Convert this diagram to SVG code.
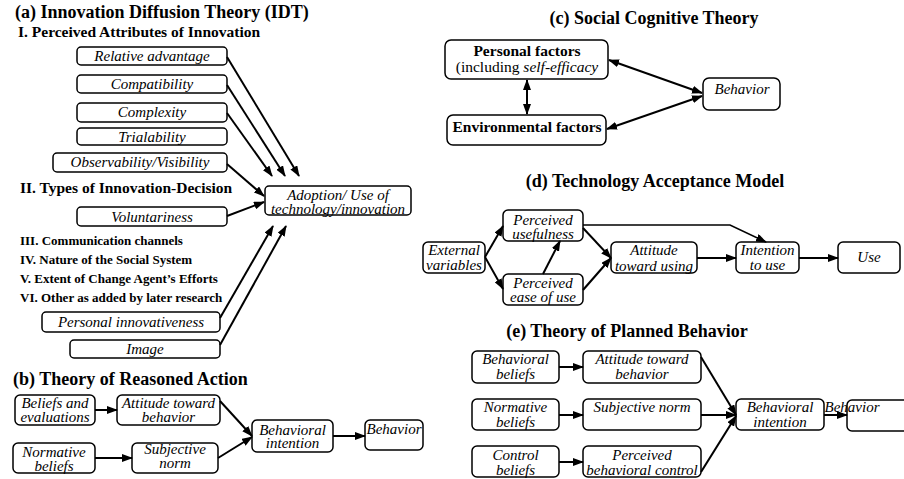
<svg xmlns="http://www.w3.org/2000/svg" width="904" height="479" viewBox="0 0 904 479">
<style>
.t{font-style:italic;font-size:15px;text-anchor:middle}
.ti{font-weight:bold;font-size:18px}
.h{font-weight:bold;font-size:15.5px}
.s{font-weight:bold;font-size:13px}
.b{font-weight:bold;font-size:15.5px;text-anchor:middle}
.r{font-size:15.5px;text-anchor:middle}
rect{fill:#fff;stroke:#000;stroke-width:1.5}
#connectors path{stroke:#000;stroke-width:2;fill:none;marker-end:url(#ah)}
#connectors path.d{marker-start:url(#ah)}
#connectors path.thin{stroke-width:1.6}
</style>
<defs>
<marker id="ah" markerWidth="11" markerHeight="8" refX="10" refY="4" orient="auto-start-reverse" markerUnits="userSpaceOnUse"><path d="M0,0 L11,4 L0,8 z" fill="#000"/></marker>
</defs>
<rect x="0" y="0" width="904" height="479" style="fill:#fff;stroke:none"/>

<!-- Titles -->
<text font-family="Liberation Serif" class="ti" x="15" y="18">(a) Innovation Diffusion Theory (IDT)</text>
<text font-family="Liberation Serif" class="h" x="18" y="37">I. Perceived Attributes of Innovation</text>
<text font-family="Liberation Serif" class="h" x="20" y="193">II. Types of Innovation-Decision</text>
<text font-family="Liberation Serif" class="s" x="20" y="245">III. Communication channels</text>
<text font-family="Liberation Serif" class="s" x="20" y="264">IV. Nature of the Social System</text>
<text font-family="Liberation Serif" class="s" x="20" y="283">V. Extent of Change Agent’s Efforts</text>
<text font-family="Liberation Serif" class="s" x="20" y="302">VI. Other as added by later research</text>
<text font-family="Liberation Serif" class="ti" x="13" y="385">(b) Theory of Reasoned Action</text>
<text font-family="Liberation Serif" class="ti" x="654" y="24" text-anchor="middle">(c) Social Cognitive Theory</text>
<text font-family="Liberation Serif" class="ti" x="655" y="187" text-anchor="middle">(d) Technology Acceptance Model</text>
<text font-family="Liberation Serif" class="ti" x="627" y="337" text-anchor="middle">(e) Theory of Planned Behavior</text>

<!-- (a) nodes -->
<g id="a-relative"><rect x="77" y="47" width="150" height="18" rx="4"/><text font-family="Liberation Serif" class="t" x="152" y="61">Relative advantage</text></g>
<g id="a-compat"><rect x="77" y="75" width="150" height="18" rx="4"/><text font-family="Liberation Serif" class="t" x="152" y="89">Compatibility</text></g>
<g id="a-complex"><rect x="77" y="103" width="150" height="19" rx="4"/><text font-family="Liberation Serif" class="t" x="152" y="117">Complexity</text></g>
<g id="a-trial"><rect x="77" y="128" width="150" height="17" rx="4"/><text font-family="Liberation Serif" class="t" x="152" y="141.5">Trialability</text></g>
<g id="a-observ"><rect x="53" y="153" width="174" height="19" rx="4"/><text font-family="Liberation Serif" class="t" x="140" y="166.5">Observability/Visibility</text></g>
<g id="a-volunt"><rect x="77" y="207" width="150" height="19" rx="4"/><text font-family="Liberation Serif" class="t" x="152" y="221.5">Voluntariness</text></g>
<g id="a-personal"><rect x="42" y="312" width="178" height="20" rx="4"/><text font-family="Liberation Serif" class="t" x="131" y="326.5">Personal innovativeness</text></g>
<g id="a-image"><rect x="70" y="340" width="150" height="18" rx="4"/><text font-family="Liberation Serif" class="t" x="145" y="353.5">Image</text></g>
<g id="a-adoption"><rect x="265" y="186" width="146" height="29" rx="4"/><text font-family="Liberation Serif" class="t" x="338" y="200">Adoption/ Use of</text><text font-family="Liberation Serif" class="t" x="338" y="213.5">technology/innovation</text></g>

<!-- (b) nodes -->
<g id="b-beliefs"><rect x="15" y="395" width="80" height="30" rx="5"/><text font-family="Liberation Serif" class="t" x="55" y="408">Beliefs and</text><text font-family="Liberation Serif" class="t" x="55" y="422">evaluations</text></g>
<g id="b-attitude"><rect x="117" y="395" width="103" height="30" rx="5"/><text font-family="Liberation Serif" class="t" x="168.5" y="408">Attitude toward</text><text font-family="Liberation Serif" class="t" x="168.5" y="422">behavior</text></g>
<g id="b-normative"><rect x="13" y="443" width="82" height="30" rx="5"/><text font-family="Liberation Serif" class="t" x="54" y="457">Normative</text><text font-family="Liberation Serif" class="t" x="54" y="471">beliefs</text></g>
<g id="b-subjective"><rect x="132" y="443" width="86" height="30" rx="5"/><text font-family="Liberation Serif" class="t" x="175" y="454">Subjective</text><text font-family="Liberation Serif" class="t" x="175" y="468">norm</text></g>
<g id="b-intention"><rect x="252" y="420" width="81" height="32" rx="5"/><text font-family="Liberation Serif" class="t" x="292.5" y="435">Behavioral</text><text font-family="Liberation Serif" class="t" x="292.5" y="448">intention</text></g>
<g id="b-behavior"><rect x="365" y="420" width="58" height="30" rx="5"/><text font-family="Liberation Serif" class="t" x="394" y="434">Behavior</text></g>

<!-- (c) nodes -->
<g id="c-personal"><rect x="445" y="40" width="163" height="39" rx="6"/><text font-family="Liberation Serif" class="b" x="527" y="56">Personal factors</text><text font-family="Liberation Serif" class="r" x="527" y="72">(including <tspan font-style="italic">self-efficacy</tspan></text></g>
<g id="c-env"><rect x="447" y="115" width="159" height="30" rx="6"/><text font-family="Liberation Serif" class="b" x="527" y="132">Environmental factors</text></g>
<g id="c-behavior"><rect x="703" y="78" width="77" height="32" rx="6"/><text font-family="Liberation Serif" class="t" x="742" y="94">Behavior</text></g>

<!-- (d) nodes -->
<g id="d-external"><rect x="423" y="242" width="62" height="31" rx="5"/><text font-family="Liberation Serif" class="t" x="454" y="255">External</text><text font-family="Liberation Serif" class="t" x="454" y="270">variables</text></g>
<g id="d-pu"><rect x="503" y="210" width="80" height="31" rx="5"/><text font-family="Liberation Serif" class="t" x="543" y="225">Perceived</text><text font-family="Liberation Serif" class="t" x="543" y="238.5">usefulness</text></g>
<g id="d-peou"><rect x="503" y="274" width="80" height="31" rx="5"/><text font-family="Liberation Serif" class="t" x="543" y="288">Perceived</text><text font-family="Liberation Serif" class="t" x="543" y="302">ease of use</text></g>
<g id="d-attitude"><rect x="611" y="242" width="86" height="31" rx="5"/><text font-family="Liberation Serif" class="t" x="654" y="255">Attitude</text><text font-family="Liberation Serif" class="t" x="654" y="270.5">toward using</text></g>
<g id="d-intention"><rect x="736" y="242" width="63" height="31" rx="5"/><text font-family="Liberation Serif" class="t" x="767.5" y="255">Intention</text><text font-family="Liberation Serif" class="t" x="767.5" y="270">to use</text></g>
<g id="d-use"><rect x="838" y="242" width="62" height="31" rx="5"/><text font-family="Liberation Serif" class="t" x="869" y="262">Use</text></g>

<!-- (e) nodes -->
<g id="e-bb"><rect x="472" y="351" width="87" height="32" rx="5"/><text font-family="Liberation Serif" class="t" x="515.5" y="364">Behavioral</text><text font-family="Liberation Serif" class="t" x="515.5" y="379">beliefs</text></g>
<g id="e-atb"><rect x="583" y="351" width="118" height="32" rx="5"/><text font-family="Liberation Serif" class="t" x="642" y="364">Attitude toward</text><text font-family="Liberation Serif" class="t" x="642" y="379">behavior</text></g>
<g id="e-nb"><rect x="472" y="399" width="87" height="31" rx="5"/><text font-family="Liberation Serif" class="t" x="515.5" y="412">Normative</text><text font-family="Liberation Serif" class="t" x="515.5" y="427">beliefs</text></g>
<g id="e-sn"><rect x="583" y="399" width="118" height="31" rx="5"/><text font-family="Liberation Serif" class="t" x="642" y="412">Subjective norm</text></g>
<g id="e-cb"><rect x="472" y="446" width="87" height="31" rx="5"/><text font-family="Liberation Serif" class="t" x="515.5" y="460">Control</text><text font-family="Liberation Serif" class="t" x="515.5" y="475">beliefs</text></g>
<g id="e-pbc"><rect x="583" y="446" width="118" height="31" rx="5"/><text font-family="Liberation Serif" class="t" x="642" y="460">Perceived</text><text font-family="Liberation Serif" class="t" x="642" y="475">behavioral control</text></g>
<g id="e-bi"><rect x="736" y="399" width="88" height="31" rx="5"/><text font-family="Liberation Serif" class="t" x="780" y="412">Behavioral</text><text font-family="Liberation Serif" class="t" x="780" y="427">intention</text></g>
<g id="e-behavior"><rect x="847" y="400" width="70" height="31" rx="5"/><text font-family="Liberation Serif" class="t" x="852" y="412" text-anchor="start">Behavior</text></g>

<g id="connectors">
<!-- (a) -->
<path d="M227,57 L299,176"/>
<path d="M227,85 L285,176"/>
<path d="M227,113 L272,176"/>
<path d="M227,164 L264,196"/>
<path d="M227,216 L264,202"/>
<path d="M220,318 L273,226"/>
<path d="M220,345 L286,226"/>
<!-- (b) -->
<path d="M95,410 L117,410"/>
<path d="M95,458 L132,458"/>
<path d="M220,401 L252,436"/>
<path d="M218,458 L252,437"/>
<path d="M333,436 L365,436"/>
<!-- (c) -->
<path class="d" d="M609,60 L702,93"/>
<path class="d" d="M607,129 L702,96"/>
<path class="d" d="M527,80 L527,114"/>
<!-- (d) -->
<path d="M485,257 L503,226"/>
<path d="M485,257 L503,289"/>
<path d="M583,228 L611,258"/>
<path d="M583,290 L611,258"/>
<path d="M543,274 L560,241"/>
<path class="thin" d="M583,225 L730,225 L766,242"/>
<path d="M697,258 L736,258"/>
<path d="M799,258 L838,258"/>
<!-- (e) -->
<path d="M559,367 L583,367"/>
<path d="M559,415 L583,415"/>
<path d="M559,462 L583,462"/>
<path d="M701,357 L736,415"/>
<path d="M701,415 L736,415"/>
<path d="M701,472 L736,416"/>
<path d="M824,415 L847,415"/>
</g>
</svg>
